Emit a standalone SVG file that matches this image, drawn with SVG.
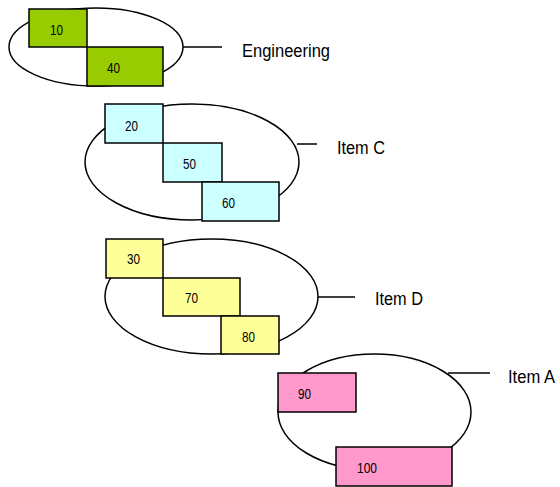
<svg xmlns="http://www.w3.org/2000/svg" width="560" height="487" viewBox="0 0 560 487">
  <style>
    .ring { fill: #ffffff; stroke: #000; stroke-width: 1.5; }
    .box { stroke: #000; stroke-width: 1.5; }
    .green { fill: #99cc00; }
    .cyan { fill: #ccffff; }
    .yellow { fill: #ffff99; }
    .pink { fill: #ff99cc; }
    .num { font-family: "Liberation Sans", Arial, sans-serif; font-size: 14px; fill: #000; }
    .lbl { font-family: "Liberation Sans", Arial, sans-serif; font-size: 18px; fill: #000; }
    .lead { stroke: #000; stroke-width: 1.5; fill: none; }
  </style>
  <rect width="560" height="487" fill="#ffffff"/>

  <!-- leader lines from each ring to its label -->
  <g id="connectors">
    <line class="lead" x1="183" y1="47" x2="222" y2="47"/>
    <line class="lead" x1="297" y1="144" x2="317" y2="144"/>
    <line class="lead" x1="318" y1="297" x2="355" y2="297"/>
    <line class="lead" x1="448" y1="373" x2="490" y2="373"/>
  </g>

  <g id="engineering">
    <ellipse class="ring" cx="96" cy="47" rx="87" ry="39"/>
    <rect class="box green" x="29" y="9" width="58" height="38"/>
    <text class="num" x="50" y="35" textLength="13" lengthAdjust="spacingAndGlyphs">10</text>
    <rect class="box green" x="87" y="47" width="76" height="39"/>
    <text class="num" x="107" y="73" textLength="13" lengthAdjust="spacingAndGlyphs">40</text>
    <text class="lbl" x="242" y="57" textLength="88" lengthAdjust="spacingAndGlyphs">Engineering</text>
  </g>

  <g id="item-c">
    <ellipse class="ring" cx="192" cy="162" rx="107" ry="58"/>
    <rect class="box cyan" x="105" y="104" width="58" height="39"/>
    <text class="num" x="125" y="131" textLength="13" lengthAdjust="spacingAndGlyphs">20</text>
    <rect class="box cyan" x="163" y="143" width="59" height="39"/>
    <text class="num" x="183" y="169" textLength="13" lengthAdjust="spacingAndGlyphs">50</text>
    <rect class="box cyan" x="202" y="182" width="77" height="39"/>
    <text class="num" x="222" y="208" textLength="13" lengthAdjust="spacingAndGlyphs">60</text>
    <text class="lbl" x="337" y="154" textLength="48" lengthAdjust="spacingAndGlyphs">Item C</text>
  </g>

  <g id="item-d">
    <ellipse class="ring" cx="211.5" cy="296.5" rx="106.5" ry="57.5"/>
    <rect class="box yellow" x="106" y="239" width="57" height="39"/>
    <text class="num" x="127" y="264" textLength="13" lengthAdjust="spacingAndGlyphs">30</text>
    <rect class="box yellow" x="163" y="278" width="77" height="38"/>
    <text class="num" x="185" y="303" textLength="13" lengthAdjust="spacingAndGlyphs">70</text>
    <rect class="box yellow" x="221" y="316" width="58" height="38"/>
    <text class="num" x="242" y="342" textLength="13" lengthAdjust="spacingAndGlyphs">80</text>
    <text class="lbl" x="375" y="305" textLength="48" lengthAdjust="spacingAndGlyphs">Item D</text>
  </g>

  <g id="item-a">
    <ellipse class="ring" cx="374.5" cy="412" rx="96.5" ry="58"/>
    <rect class="box pink" x="278" y="373" width="78" height="39"/>
    <text class="num" x="298" y="399" textLength="13" lengthAdjust="spacingAndGlyphs">90</text>
    <rect class="box pink" x="336" y="447" width="116" height="39"/>
    <text class="num" x="357" y="473" textLength="20" lengthAdjust="spacingAndGlyphs">100</text>
    <text class="lbl" x="508" y="383" textLength="47" lengthAdjust="spacingAndGlyphs">Item A</text>
  </g>
</svg>
